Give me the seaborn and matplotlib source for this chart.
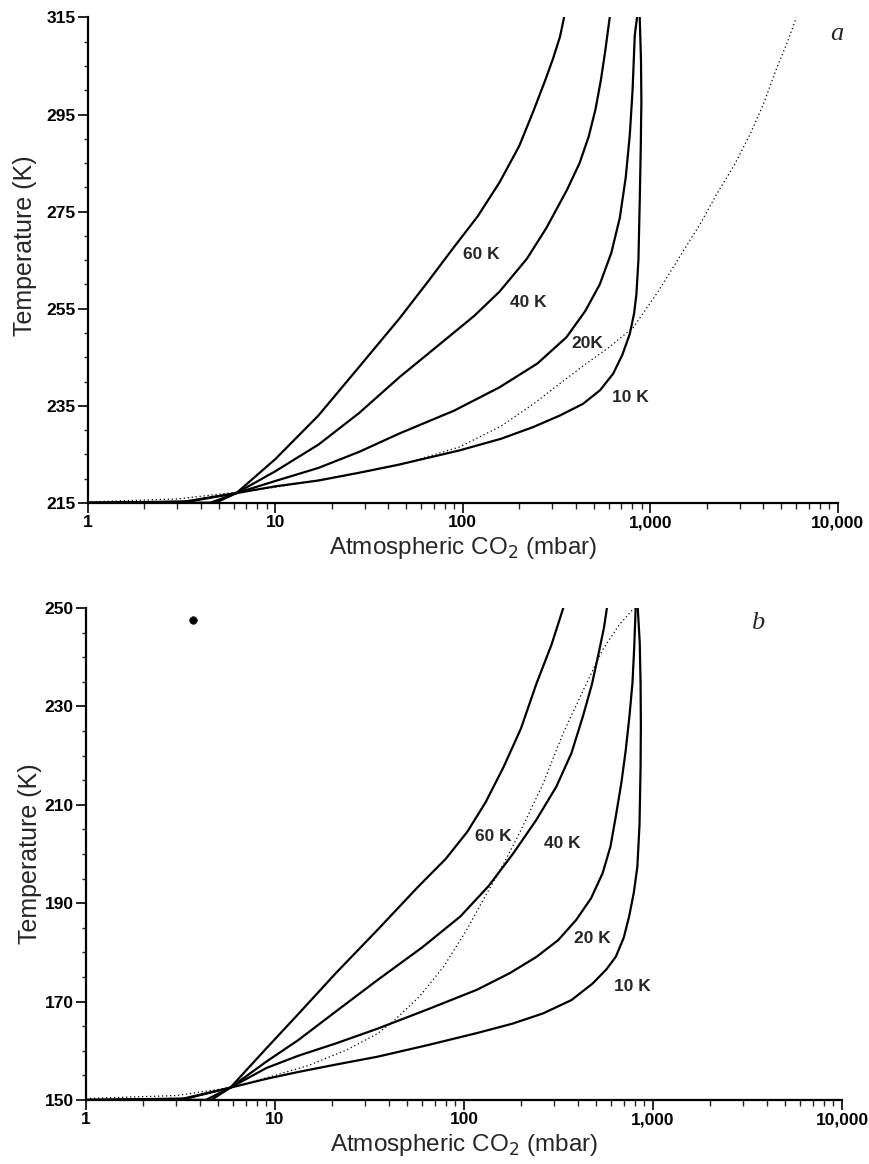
import matplotlib

matplotlib.use("Agg")
import matplotlib.pyplot as plt
import matplotlib.ticker as mticker
import numpy as np
import pandas as pd
import seaborn as sns

# ---- panel a: surface temperature vs CO2 pressure ----
a_60k_p = [1, 4.8, 6.2, 10, 17, 28, 46, 65, 89, 120, 157, 200, 237, 275, 303, 330, 347]
a_60k_t = [215, 215, 217, 224, 233, 243, 253, 260.5, 267.5, 274, 281, 288.5, 295.5, 302, 306.5, 311, 315]
a_40k_p = [1, 4.5, 6.2, 10, 17, 28, 46, 80, 115, 157, 220, 279, 360, 420, 470, 510, 545, 575, 608]
a_40k_t = [215, 215, 217, 221.5, 227, 233.5, 240.9, 248.5, 253.5, 258.5, 265.3, 271.6, 279.5, 285,
           290.5, 296, 302, 308, 315]
a_20k_p = [1, 3.5, 6.2, 10, 17, 28, 46, 90, 157, 250, 357, 450, 538, 620, 688, 740, 778, 805, 827, 850]
a_20k_t = [215, 215.3, 217, 219.5, 222.2, 225.5, 229.3, 234, 238.8, 243.7, 249.1, 254.5, 260, 266.5,
           273.7, 282, 290.8, 300, 311.3, 315]
a_10k_p = [1, 3.2, 6.2, 10, 17, 28, 46, 96, 160, 237, 330, 438, 540, 634, 710, 778, 820, 844, 865,
           879, 890, 897, 893, 879]
a_10k_t = [215, 215.2, 217, 218.4, 219.6, 221.2, 222.9, 225.8, 228.2, 230.6, 233, 235.4, 238.2, 241.6,
           245.5, 249.8, 254, 258, 265, 277.1, 288, 297.6, 306, 315]
a_sat_p = [1, 3, 6.2, 10, 17, 28, 46, 96, 160, 237, 330, 438, 600, 811, 1100, 1496, 1850, 2254, 2800,
           3395, 4000, 4710, 5400, 6015]
a_sat_t = [215.2, 215.8, 217.2, 218.2, 219.7, 221.2, 222.8, 226.5, 230.8, 235.3, 239.6, 243.2, 247,
           251.1, 258.5, 266.8, 272.5, 278.5, 284.5, 290.8, 297, 304.4, 310, 315]

# ---- panel b ----
b_60k_p = [1, 4.6, 5.8, 9, 13.3, 21, 34.9, 56.7, 80, 104, 130, 162, 200, 242, 290, 335]
b_60k_t = [150, 150, 152.5, 160.5, 167.5, 175.8, 184.6, 193.2, 199, 204.5, 210.5, 217.7, 225.5,
           234.7, 242.5, 250]
b_40k_p = [1, 4.3, 5.8, 9, 13.3, 21, 34.9, 60, 95.6, 135, 182, 240, 308, 370, 425, 475, 520, 550, 570]
b_40k_t = [150, 150, 152.5, 157.8, 162.2, 168, 174.4, 181, 187.3, 193.5, 200.1, 206.8, 213.7, 220.5,
           227.9, 234.5, 241.5, 246, 250]
b_20k_p = [1, 3.4, 5.8, 9, 13.3, 21, 34.9, 65, 117, 175, 242, 315, 392, 470, 541, 595, 635, 680, 717,
           750, 778, 795, 809]
b_20k_t = [150, 150.3, 152.5, 156.5, 159, 161.5, 164.5, 168.5, 172.4, 175.8, 179.1, 182.5, 186.6, 191,
           196.1, 201.5, 207.6, 214.5, 221.1, 228, 234.7, 242, 250]
b_10k_p = [1, 3.2, 5.8, 9, 13.3, 21, 34.9, 65, 117, 180, 262, 370, 480, 565, 635, 700, 747, 790, 826,
           848, 859, 862, 859, 850, 830]
b_10k_t = [150, 150.2, 152.5, 154.3, 155.7, 157.2, 158.8, 161.2, 163.6, 165.5, 167.6, 170.3, 173.7,
           176.5, 179.1, 183, 187.3, 192, 197.4, 206, 217.7, 226, 234.7, 243, 250]
b_sat_p = [1, 3, 5.8, 9, 15, 24, 34.9, 42.8, 58, 78, 103, 132, 162, 198, 260, 334, 430, 541, 660, 794]
b_sat_t = [150.3, 150.9, 152.5, 154.5, 157, 160.2, 163.5, 166.2, 171, 177.1, 184.5, 192, 198, 204.5,
           214, 224.5, 233.5, 241.5, 246.5, 250]

# curve labels: text, pressure, temperature
a_labels = [("60 K", 126, 266.2), ("40 K", 224, 256.2), ("20K", 460, 247.8), ("10 K", 780, 236.7)]
b_labels = [("60 K", 142, 203.5), ("40 K", 330, 202.2), ("20 K", 480, 182.9), ("10 K", 780, 173)]

# stray dot printed in panel b
b_dot_p = [3.7]
b_dot_t = [247.5]

x_ticks = [1, 10, 100, 1000, 10000]
x_ticklabels = ["1", "10", "100", "1,000", "10,000"]
a_yticks = [215, 235, 255, 275, 295, 315]
b_yticks = [150, 170, 190, 210, 230, 250]

sns.set_theme(style="ticks")
plt.rcParams["font.family"] = ["Liberation Sans", "DejaVu Sans"]


def panel(ax, curves, sat_p, sat_t, labels, yticks, letter, letter_pos):
    for p, t in curves:
        df = pd.DataFrame({"p": p, "t": t})
        sns.lineplot(data=df, x="p", y="t", ax=ax, sort=False, estimator=None,
                     color="black", linewidth=1.6)
    sns.lineplot(x=sat_p, y=sat_t, ax=ax, sort=False, estimator=None,
                 color="black", linewidth=0.9, linestyle=(0, (1, 2.2)))
    for txt, p, t in labels:
        ax.text(p, t, txt, ha="center", va="center", fontsize=12.5, fontweight="bold")
    ax.text(letter_pos[0], letter_pos[1], letter, ha="center", va="center",
            fontsize=19, style="italic", family="Liberation Serif")

    ax.set_xscale("log")
    ax.set_xlim(1, 10000)
    ax.set_ylim(yticks[0], yticks[-1])
    ax.set_xticks(x_ticks)
    ax.set_xticklabels(x_ticklabels)
    ax.xaxis.set_minor_locator(mticker.LogLocator(base=10, subs=np.arange(2, 10)))
    ax.xaxis.set_minor_formatter(mticker.NullFormatter())
    ax.set_yticks(yticks)
    ax.yaxis.set_minor_locator(mticker.MultipleLocator(5))
    ax.tick_params(axis="both", which="major", direction="out", length=7, width=1.2,
                   labelsize=12.5, colors="black", pad=2)
    ax.tick_params(axis="x", which="minor", direction="out", length=4, width=1.0)
    ax.tick_params(axis="y", which="minor", direction="out", length=3, width=1.0)
    for lab in ax.get_xticklabels() + ax.get_yticklabels():
        lab.set_fontweight("bold")
    for side in ["top", "right"]:
        ax.spines[side].set_visible(False)
    for side in ["left", "bottom"]:
        ax.spines[side].set_linewidth(1.6)
        ax.spines[side].set_color("black")
    ax.set_xlabel("Atmospheric CO$_2$ (mbar)", fontsize=17.5, labelpad=3)
    ax.set_ylabel("Temperature (K)", fontsize=18, labelpad=2)


fig = plt.figure(figsize=(8.69, 11.64), dpi=100)
ax_a = fig.add_axes([0.101, 0.568, 0.863, 0.417])
ax_b = fig.add_axes([0.099, 0.055, 0.870, 0.4227])

panel(ax_a,
      [(a_60k_p, a_60k_t), (a_40k_p, a_40k_t), (a_20k_p, a_20k_t), (a_10k_p, a_10k_t)],
      a_sat_p, a_sat_t, a_labels, a_yticks, "a", (9880, 311.5))
panel(ax_b,
      [(b_60k_p, b_60k_t), (b_40k_p, b_40k_t), (b_20k_p, b_20k_t), (b_10k_p, b_10k_t)],
      b_sat_p, b_sat_t, b_labels, b_yticks, "b", (3590, 246.9))
sns.scatterplot(x=b_dot_p, y=b_dot_t, ax=ax_b, color="black", s=30, edgecolor="black")
ax_a.yaxis.set_label_coords(-0.068, 0.53)

fig.savefig("out.png", dpi=100)
